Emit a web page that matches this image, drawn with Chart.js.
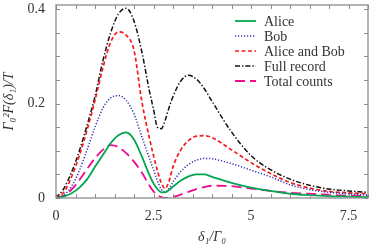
<!DOCTYPE html>
<html>
<head>
<meta charset="utf-8">
<script src="https://cdn.jsdelivr.net/npm/chart.js@4"></script>
<style>
html, body { margin: 0; padding: 0; background: #fff; }
</style>
</head>
<body>
<canvas id="myChart" width="374" height="247"></canvas>
<script>
// detuning delta_1 / Gamma_0
const delta = [0, 0.2, 0.4, 0.6, 0.8, 1.0, 1.2, 1.4, 1.6, 1.8, 2.0, 2.2, 2.4, 2.5, 2.6, 2.7, 2.8, 2.9, 3.0, 3.2, 3.4, 3.6, 3.8, 4.0, 4.5, 5, 5.5, 6, 6.5, 7, 7.5, 8];

const alice       = [0, 0.003, 0.010, 0.022, 0.040, 0.066, 0.091, 0.116, 0.133, 0.139, 0.124, 0.088, 0.048, 0.031, 0.019, 0.012, 0.012, 0.017, 0.024, 0.037, 0.046, 0.050, 0.050, 0.045, 0.032, 0.022, 0.015, 0.009, 0.006, 0.004, 0.003, 0.002];
const bob         = [0, 0.006, 0.025, 0.058, 0.103, 0.150, 0.190, 0.212, 0.217, 0.207, 0.178, 0.130, 0.083, 0.060, 0.037, 0.018, 0.013, 0.020, 0.034, 0.056, 0.071, 0.080, 0.084, 0.083, 0.073, 0.059, 0.045, 0.028, 0.018, 0.012, 0.009, 0.006];
const aliceBob    = [0, 0.012, 0.045, 0.090, 0.145, 0.207, 0.275, 0.330, 0.352, 0.345, 0.313, 0.205, 0.125, 0.090, 0.058, 0.032, 0.020, 0.036, 0.066, 0.102, 0.122, 0.131, 0.132, 0.128, 0.102, 0.075, 0.052, 0.033, 0.021, 0.014, 0.011, 0.009];
const fullRecord  = [0, 0.020, 0.055, 0.100, 0.155, 0.215, 0.290, 0.350, 0.390, 0.402, 0.375, 0.310, 0.225, 0.188, 0.150, 0.147, 0.165, 0.192, 0.215, 0.248, 0.260, 0.252, 0.232, 0.205, 0.140, 0.090, 0.060, 0.040, 0.027, 0.019, 0.015, 0.012];
const totalCounts = [0, 0.005, 0.018, 0.038, 0.062, 0.084, 0.102, 0.112, 0.108, 0.095, 0.077, 0.054, 0.026, 0.014, 0.006, 0.002, 0.000, 0.000, 0.002, 0.007, 0.013, 0.019, 0.023, 0.026, 0.025, 0.020, 0.015, 0.011, 0.009, 0.007, 0.005, 0.004];

const seriesNames = ['Alice', 'Bob', 'Alice and Bob', 'Full record', 'Total counts'];

const xTickLabels = [0, 2.5, 5, 7.5];
const yTickLabels = [0, 0.2, 0.4];
const xMinorTicks = [0, 0.5, 1, 1.5, 2, 2.5, 3, 3.5, 4, 4.5, 5, 5.5, 6, 6.5, 7, 7.5, 8];
const yMinorTicks = [0, 0.05, 0.1, 0.15, 0.2, 0.25, 0.3, 0.35, 0.4];

const serif = "'Liberation Serif', 'DejaVu Serif', serif";

function points(arr) {
    return delta.map((d, i) => ({ x: d, y: arr[i] }));
}

function isLabel(list, v) {
    return list.some(t => Math.abs(t - v) < 1e-6);
}

// inward ticks on all four sides + grey frame
const frameTicks = {
    id: 'frameTicks',
    afterDatasetsDraw(chart) {
        const { ctx, chartArea: a, scales: { x, y } } = chart;
        ctx.save();
        ctx.strokeStyle = '#8c8c8c';
        ctx.lineWidth = 1;
        ctx.setLineDash([]);
        ctx.beginPath();
        x.ticks.forEach(t => {
            const px = Math.round(x.getPixelForValue(t.value)) + 0.5;
            ctx.moveTo(px, a.bottom); ctx.lineTo(px, a.bottom - 4);
            ctx.moveTo(px, a.top); ctx.lineTo(px, a.top + 4);
        });
        y.ticks.forEach(t => {
            const py = Math.round(y.getPixelForValue(t.value)) + 0.5;
            ctx.moveTo(a.left, py); ctx.lineTo(a.left + 4, py);
            ctx.moveTo(a.right, py); ctx.lineTo(a.right - 4, py);
        });
        ctx.stroke();
        ctx.lineWidth = 1.3;
        ctx.strokeRect(a.left, a.top, a.right - a.left, a.bottom - a.top);
        ctx.restore();
    },
    afterDraw(chart) {
        // legend in the upper right of the plot
        const { ctx, chartArea: a } = chart;
        ctx.save();
        ctx.font = '14px ' + serif;
        ctx.textBaseline = 'middle';
        chart.data.datasets.forEach((ds, i) => {
            const yy = a.top + 16 + i * 15;
            ctx.strokeStyle = ds.borderColor;
            ctx.lineWidth = ds.borderWidth;
            ctx.setLineDash(ds.borderDash || []);
            ctx.beginPath();
            ctx.moveTo(a.right - 133, yy);
            ctx.lineTo(a.right - 112, yy);
            ctx.stroke();
            ctx.fillStyle = '#333';
            ctx.fillText(ds.label, a.right - 104, yy + 1);
        });
        ctx.restore();
    }
};

const data = {
    datasets: [
        {
            label: seriesNames[0],
            data: points(alice),
            borderColor: '#00a651',
            borderWidth: 1.8,
            borderDash: []
        },
        {
            label: seriesNames[1],
            data: points(bob),
            borderColor: '#3030b0',
            borderWidth: 1.5,
            borderDash: [1.2, 1.8]
        },
        {
            label: seriesNames[2],
            data: points(aliceBob),
            borderColor: '#f21c1c',
            borderWidth: 1.7,
            borderDash: [4, 2.5]
        },
        {
            label: seriesNames[3],
            data: points(fullRecord),
            borderColor: '#111111',
            borderWidth: 1.5,
            borderDash: [5, 2, 1.4, 2]
        },
        {
            label: seriesNames[4],
            data: points(totalCounts),
            borderColor: '#ec0c8c',
            borderWidth: 1.8,
            borderDash: [10, 5]
        }
    ]
};

const config = {
    type: 'line',
    data,
    options: {
        responsive: false,
        animation: false,
        devicePixelRatio: 1,
        layout: { padding: { top: 5, right: 6, left: 0, bottom: 0 } },
        elements: {
            point: { radius: 0 },
            line: { cubicInterpolationMode: 'monotone', fill: false }
        },
        plugins: {
            legend: { display: false },
            tooltip: { enabled: false }
        },
        scales: {
            x: {
                type: 'linear',
                min: 0,
                max: 8,
                grid: { display: false, drawTicks: false },
                border: { display: false },
                afterBuildTicks(s) { s.ticks = xMinorTicks.map(v => ({ value: v })); },
                afterFit(s) {
                    s.height = 49;
                    s.paddingLeft = 0;
                    s.paddingRight = 0;
                },
                ticks: {
                    autoSkip: false,
                    maxRotation: 0,
                    padding: 10,
                    color: '#333',
                    font: { family: serif, size: 14 },
                    callback: v => isLabel(xTickLabels, v) ? String(v) : ''
                },
                title: {
                    display: true,
                    text: 'δ₁/Γ₀',
                    color: '#333',
                    padding: { top: 0, bottom: 1 },
                    font: { family: serif, size: 14, style: 'italic' }
                }
            },
            y: {
                min: 0,
                max: 0.409,
                grid: { display: false, drawTicks: false },
                border: { display: false },
                afterBuildTicks(s) { s.ticks = yMinorTicks.map(v => ({ value: v })); },
                afterFit(s) {
                    s.width = 56;
                    s.paddingTop = 0;
                    s.paddingBottom = 0;
                },
                ticks: {
                    autoSkip: false,
                    padding: 11,
                    color: '#333',
                    font: { family: serif, size: 14 },
                    callback: v => isLabel(yTickLabels, v) ? String(v) : ''
                },
                title: {
                    display: true,
                    text: 'Γ₀²F(δ₁)/T',
                    color: '#333',
                    padding: { top: 1, bottom: 0 },
                    font: { family: serif, size: 14, style: 'italic' }
                }
            }
        }
    },
    plugins: [frameTicks]
};

const myChart = new Chart(document.getElementById('myChart'), config);
</script>
</body>
</html>
